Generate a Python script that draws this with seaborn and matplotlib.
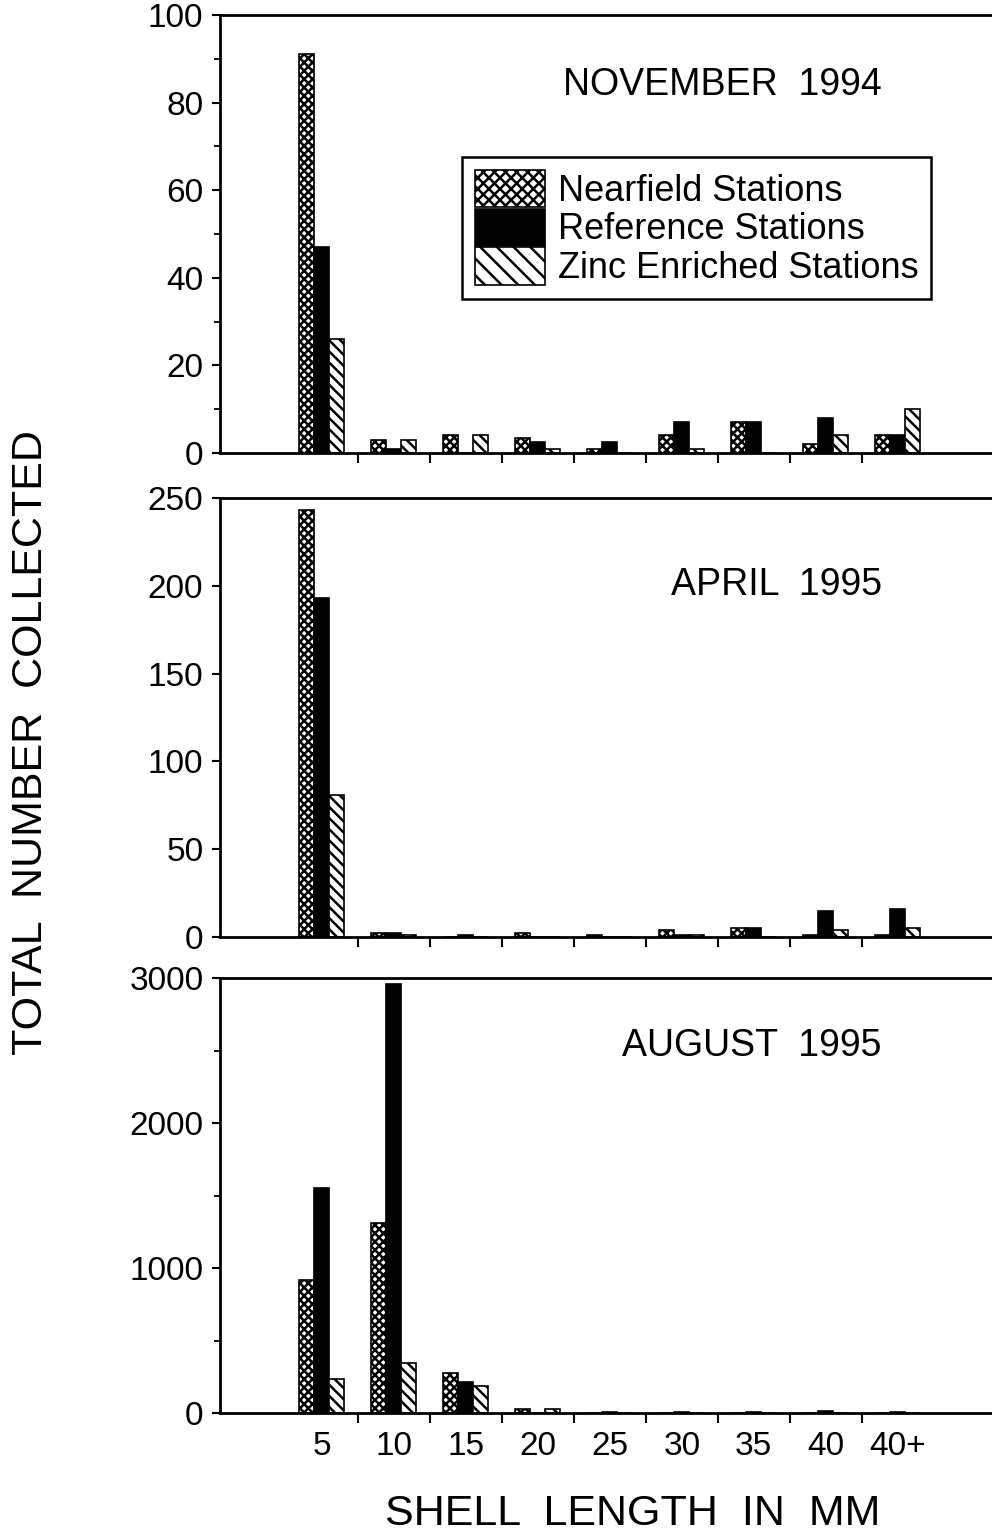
import matplotlib
matplotlib.use("Agg")
import matplotlib.pyplot as plt
from matplotlib.patches import Patch
from matplotlib.ticker import MultipleLocator, FixedLocator
import seaborn as sns
import pandas as pd

# ---------------- data ----------------
categories = ['5', '10', '15', '20', '25', '30', '35', '40', '40+']
stations = ['Nearfield Stations', 'Reference Stations', 'Zinc Enriched Stations']

nov_near = [91, 3, 4, 3.5, 1, 4, 7, 2, 4]
nov_ref = [47, 1, 0, 2.5, 2.5, 7, 7, 8, 4]
nov_zinc = [26, 3, 4, 1, 0, 1, 0, 4, 10]

apr_near = [243, 2, 0, 2, 1, 4, 5, 1, 1]
apr_ref = [193, 2, 1, 0, 0, 1, 5, 15, 16]
apr_zinc = [81, 1, 0, 0, 0, 1, 0, 4, 5]

aug_near = [920, 1310, 276, 25, 0, 0, 0, 0, 0]
aug_ref = [1550, 2960, 214, 0, 5, 5, 5, 15, 5]
aug_zinc = [232, 343, 189, 25, 0, 0, 0, 0, 0]

panel_titles = ['NOVEMBER  1994', 'APRIL  1995', 'AUGUST  1995']
y_max = [100, 250, 3000]
y_major = [20, 50, 1000]
y_minor = [10, None, 500]

# ---------------- style ----------------
sns.set_style('ticks')
plt.rcParams['font.family'] = ['Liberation Sans', 'DejaVu Sans']
plt.rcParams['hatch.linewidth'] = 1.8
for k in ['text.color', 'axes.labelcolor', 'xtick.color', 'ytick.color']:
    plt.rcParams[k] = 'black'

fig = plt.figure(figsize=(9.92, 15.34), dpi=100)
H = 1534.0
Wpx = 992.0
L = 220 / Wpx
W = 1 - L
rects = [
    [L, 1 - 453 / H, W, 438 / H],
    [L, 1 - 937 / H, W, 439 / H],
    [L, 1 - 1413 / H, W, 435 / H],
]

panels = [
    (nov_near, nov_ref, nov_zinc),
    (apr_near, apr_ref, apr_zinc),
    (aug_near, aug_ref, aug_zinc),
]

hatches = ['xxxx', None, '\\\\\\']
leg_hatches = ['xxx', None, '\\\\']
faces = ['white', 'black', 'white']

title_y = [85, 585, 1046]

for i, (vals, rect) in enumerate(zip(panels, rects)):
    ax = fig.add_axes(rect)
    rows = []
    for st, series in zip(stations, vals):
        for c, v in zip(categories, series):
            rows.append({'length': c, 'count': v, 'station': st})
    df = pd.DataFrame(rows)
    sns.barplot(data=df, x='length', y='count', hue='station',
                order=categories, hue_order=stations,
                palette=faces, saturation=1, width=0.625,
                edgecolor='black', linewidth=1.2, legend=False, ax=ax,
                errorbar=None)
    for cont, h, fc in zip(ax.containers, hatches, faces):
        for p in cont.patches:
            p.set_facecolor(fc)
            p.set_edgecolor('black')
            if h:
                p.set_hatch(h)

    ax.set_xlim(-1.417, 9.31)
    ax.set_ylim(0, y_max[i])
    ax.set_xlabel('')
    ax.set_ylabel('')

    for s in ['left', 'bottom', 'top']:
        ax.spines[s].set_linewidth(2)
        ax.spines[s].set_color('black')
    ax.spines['right'].set_visible(False)

    ax.yaxis.set_major_locator(MultipleLocator(y_major[i]))
    if y_minor[i]:
        ax.yaxis.set_minor_locator(MultipleLocator(y_minor[i]))
    ax.tick_params(axis='y', which='major', direction='out', length=6, width=1.5,
                   labelsize=24, pad=6, colors='black')
    ax.tick_params(axis='y', which='minor', direction='out', length=4, width=1.3)

    ax.xaxis.set_minor_locator(FixedLocator([k + 0.5 for k in range(8)]))
    ax.tick_params(axis='x', which='minor', direction='out', length=7, width=1.5,
                   bottom=True)
    ax.tick_params(axis='x', which='major', length=0, labelsize=24, pad=13)
    if i < 2:
        ax.tick_params(axis='x', which='major', labelbottom=False)
    ax.set_facecolor('white')

    fig.text(882 / Wpx, 1 - title_y[i] / H, panel_titles[i], ha='right', va='center',
             fontsize=27)

# legend in top panel
handles = [Patch(facecolor=f, edgecolor='black', hatch=h, linewidth=1.2)
           for f, h in zip(faces, leg_hatches)]
leg = fig.legend(handles, stations, loc='upper left',
                 bbox_to_anchor=(462 / Wpx, 1 - 157 / H), bbox_transform=fig.transFigure,
                 fontsize=26, frameon=True, fancybox=False, framealpha=1,
                 edgecolor='black', borderpad=0.35, labelspacing=0.0,
                 handlelength=1.95, handleheight=1.22, handletextpad=0.35,
                 borderaxespad=0)
leg.get_frame().set_linewidth(1.8)

fig.text(31 / Wpx, 1 - 743 / H, 'TOTAL  NUMBER  COLLECTED', rotation=90,
         ha='center', va='center', fontsize=31)
fig.text(633 / Wpx, 1 - 1514 / H, 'SHELL  LENGTH  IN  MM', ha='center', va='center',
         fontsize=31)

fig.savefig('out.png', dpi=100, facecolor='white')
